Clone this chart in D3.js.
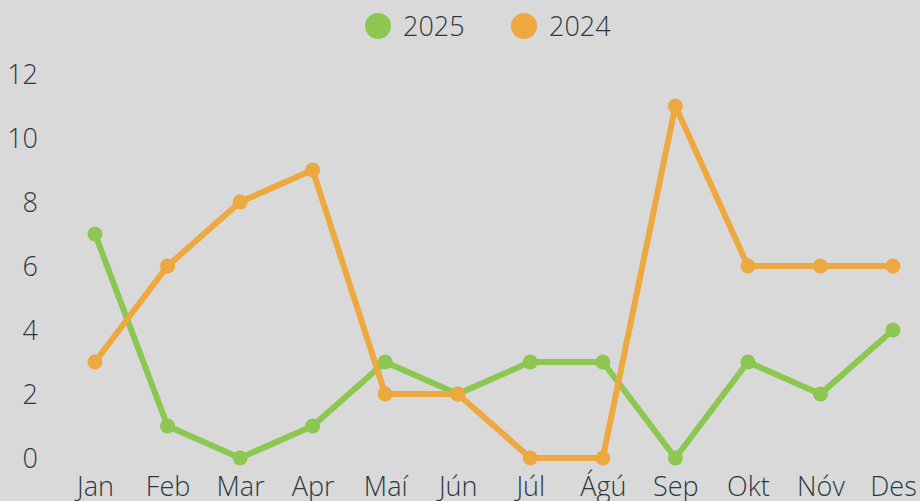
<!DOCTYPE html>
<html>
<head>
<meta charset="utf-8">
<script src="https://cdn.jsdelivr.net/npm/d3@7"></script>
<style>
  body { margin: 0; background: #d9d9d9; }
  svg { display: block; font-family: "Open Sans", sans-serif; }
</style>
</head>
<body>
<div id="chart"></div>
<script>
const months = ["Jan", "Feb", "Mar", "Apr", "Maí", "Jún", "Júl", "Ágú", "Sep", "Okt", "Nóv", "Des"];
const values2025 = [7, 1, 0, 1, 3, 2, 3, 3, 0, 3, 2, 4];
const values2024 = [3, 6, 8, 9, 2, 2, 0, 0, 11, 6, 6, 6];
const yTicks = [0, 2, 4, 6, 8, 10, 12];

const series = [
    { name: "2025", color: "#8bc751", values: values2025 },
    { name: "2024", color: "#eda83f", values: values2024 }
];

const W = 920, H = 501;
const svg = d3.select("#chart").append("svg")
    .attr("width", W)
    .attr("height", H);

// scales
const x = d3.scalePoint()
    .domain(months)
    .range([95, 893]);

const y = d3.scaleLinear()
    .domain([0, 12])
    .range([458, 74]);

const textColor = "#2b3a42";

// y axis labels
const yAxis = svg.append("g")
    .attr("transform", "translate(38,1)")
    .call(d3.axisLeft(y).tickValues(yTicks).tickSize(0).tickPadding(0));
yAxis.select(".domain").remove();
yAxis.selectAll("text")
    .attr("font-size", 27)
    .attr("font-family", "Open Sans")
    .attr("font-weight", 300)
    .attr("fill", textColor);

// x axis labels
const xAxis = svg.append("g")
    .attr("transform", "translate(0,477)")
    .call(d3.axisBottom(x).tickSize(0).tickPadding(0));
xAxis.select(".domain").remove();
xAxis.selectAll("text")
    .attr("font-size", 27)
    .attr("font-family", "Open Sans")
    .attr("font-weight", 300)
    .attr("fill", textColor);

// lines
const line = d3.line()
    .x((d, i) => x(months[i]))
    .y(d => y(d));

series.forEach(s => {
    const g = svg.append("g");
    g.append("path")
        .datum(s.values)
        .attr("fill", "none")
        .attr("stroke", s.color)
        .attr("stroke-width", 6)
        .attr("stroke-linejoin", "round")
        .attr("d", line);
    g.selectAll("circle")
        .data(s.values)
        .join("circle")
        .attr("cx", (d, i) => x(months[i]))
        .attr("cy", d => y(d))
        .attr("r", 7.5)
        .attr("fill", s.color);
});

// legend
const legend = svg.append("g");
const legendX = [378, 524];
series.forEach((s, i) => {
    legend.append("circle")
        .attr("cx", legendX[i])
        .attr("cy", 26)
        .attr("r", 13)
        .attr("fill", s.color);
    legend.append("text")
        .attr("x", legendX[i] + 25)
        .attr("y", 36)
        .attr("font-size", 27)
        .attr("font-weight", 300)
        .attr("fill", textColor)
        .text(s.name);
});
</script>
</body>
</html>
